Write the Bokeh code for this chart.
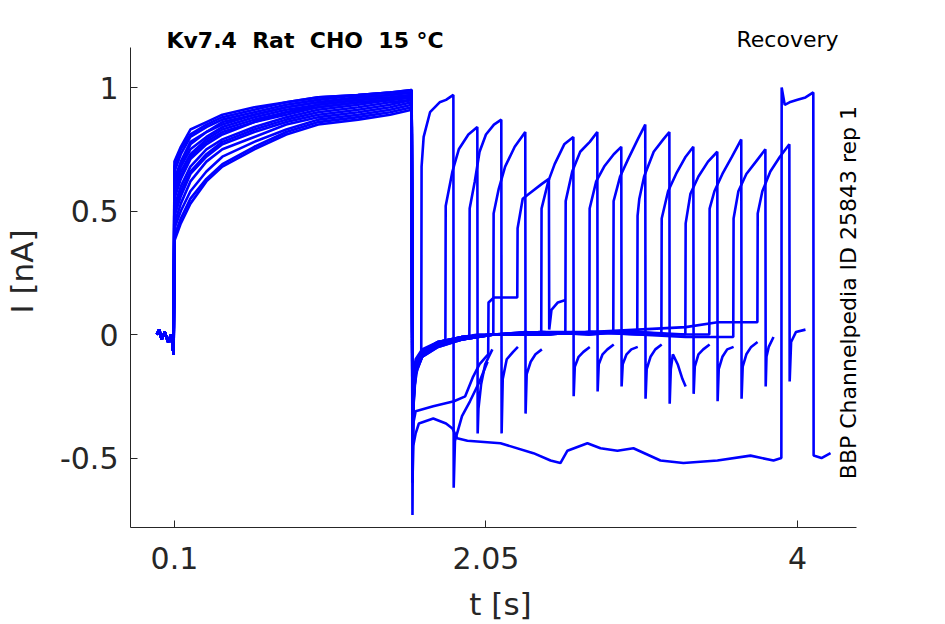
from bokeh.plotting import figure
from bokeh.models import Range1d, FixedTicker, Label
from bokeh.embed import file_html
from bokeh.resources import INLINE
import math

# ---------------- data ----------------
X_TICKS = [0.1, 2.05, 4]
Y_TICKS = [-0.5, 0, 0.5, 1]
Y_TICK_TEXT = {-0.5: "-0.5", 0: "0", 0.5: "0.5", 1: "1"}

# baseline before the first step (common to all sweeps)
T_BASE = [-0.01, 0.005, 0.02, 0.04, 0.06, 0.08, 0.095]
I_BASE = [0.0, 0.02, -0.02, 0.01, -0.03, 0.0, -0.08]

# first (conditioning) pulse
T_FIRST = [0.1, 0.14, 0.2, 0.3, 0.4, 0.6, 0.8, 1.0, 1.25, 1.45, 1.585]
I_FIRST = [
    [0.70, 0.76, 0.83, 0.86, 0.89, 0.92, 0.94, 0.96, 0.97, 0.98, 0.98],
    [0.52, 0.60, 0.68, 0.75, 0.79, 0.84, 0.88, 0.91, 0.93, 0.95, 0.96],
    [0.60, 0.68, 0.75, 0.80, 0.84, 0.88, 0.91, 0.93, 0.95, 0.96, 0.97],
    [0.45, 0.53, 0.62, 0.70, 0.75, 0.80, 0.85, 0.88, 0.90, 0.92, 0.94],
    [0.66, 0.73, 0.80, 0.84, 0.87, 0.90, 0.93, 0.95, 0.97, 0.98, 0.99],
    [0.40, 0.47, 0.55, 0.63, 0.69, 0.76, 0.82, 0.86, 0.88, 0.90, 0.92],
    [0.55, 0.63, 0.71, 0.77, 0.81, 0.86, 0.89, 0.92, 0.94, 0.95, 0.96],
    [0.48, 0.56, 0.65, 0.72, 0.77, 0.82, 0.86, 0.89, 0.91, 0.93, 0.95],
    [0.63, 0.70, 0.78, 0.82, 0.86, 0.89, 0.92, 0.94, 0.96, 0.97, 0.98],
    [0.38, 0.45, 0.53, 0.62, 0.68, 0.75, 0.81, 0.85, 0.87, 0.89, 0.91],
    [0.58, 0.66, 0.73, 0.79, 0.83, 0.87, 0.90, 0.93, 0.95, 0.96, 0.97],
    [0.50, 0.58, 0.66, 0.73, 0.78, 0.83, 0.87, 0.90, 0.92, 0.94, 0.95],
    [0.68, 0.75, 0.81, 0.85, 0.88, 0.91, 0.94, 0.96, 0.97, 0.98, 0.99],
    [0.43, 0.50, 0.58, 0.66, 0.72, 0.78, 0.83, 0.87, 0.89, 0.91, 0.93],
    [0.56, 0.64, 0.72, 0.78, 0.82, 0.86, 0.90, 0.92, 0.94, 0.95, 0.97],
    [0.62, 0.69, 0.77, 0.82, 0.85, 0.89, 0.92, 0.94, 0.96, 0.97, 0.98],
]

# recovery interval + test pulse + tail, one list per sweep
T_POST = [
    [1.59, 1.593, 1.60, 1.62, 1.645, 1.647, 1.66, 1.70, 1.76, 1.80, 1.846, 1.848, 1.856, 1.90, 1.95, 2.01, 2.06],
    [1.59, 1.595, 1.61, 1.65, 1.72, 1.796, 1.798, 1.84, 1.88, 1.94, 1.996, 1.998, 2.003, 2.02, 2.045, 2.09],
    [1.59, 1.595, 1.61, 1.65, 1.75, 1.85, 1.946, 1.948, 1.98, 2.01, 2.05, 2.10, 2.146, 2.148, 2.155, 2.18, 2.22, 2.25],
    [1.59, 1.595, 1.61, 1.65, 1.75, 1.9, 2.0, 2.096, 2.098, 2.13, 2.17, 2.23, 2.296, 2.298, 2.305, 2.33, 2.36, 2.40],
    [1.59, 1.595, 1.61, 1.72, 1.85, 1.92, 1.97, 2.01, 2.05, 2.064, 2.066, 2.10, 2.20, 2.246, 2.248, 2.28, 2.32, 2.40, 2.444, 2.446, 2.46, 2.50, 2.548],
    [1.59, 1.595, 1.61, 1.65, 1.75, 1.9, 2.1, 2.3, 2.396, 2.398, 2.44, 2.48, 2.54, 2.597, 2.599, 2.606, 2.63, 2.66, 2.70],
    [1.59, 1.595, 1.61, 1.65, 1.75, 1.9, 2.1, 2.3, 2.45, 2.547, 2.549, 2.59, 2.64, 2.70, 2.747, 2.749, 2.756, 2.78, 2.81, 2.85],
    [1.59, 1.595, 1.61, 1.65, 1.75, 1.9, 2.1, 2.4, 2.6, 2.697, 2.699, 2.74, 2.79, 2.85, 2.897, 2.899, 2.906, 2.93, 2.96, 3.0],
    [1.59, 1.595, 1.61, 1.65, 1.75, 1.9, 2.1, 2.4, 2.7, 2.847, 2.849, 2.89, 2.94, 3.0, 3.047, 3.049, 3.056, 3.08, 3.11, 3.15],
    [1.59, 1.595, 1.61, 1.65, 1.75, 1.9, 2.1, 2.4, 2.7, 2.9, 2.997, 2.999, 3.01, 3.04, 3.10, 3.16, 3.198, 3.200, 3.207, 3.22, 3.25, 3.28, 3.30],
    [1.59, 1.595, 1.61, 1.65, 1.75, 1.9, 2.1, 2.4, 2.7, 3.0, 3.148, 3.150, 3.19, 3.24, 3.30, 3.348, 3.350, 3.357, 3.38, 3.41, 3.45],
    [1.59, 1.595, 1.61, 1.65, 1.75, 1.9, 2.1, 2.4, 2.7, 3.0, 3.2, 3.298, 3.300, 3.33, 3.38, 3.44, 3.498, 3.500, 3.507, 3.53, 3.56, 3.60],
    [1.59, 1.595, 1.61, 1.65, 1.75, 1.9, 2.1, 2.4, 2.7, 3.0, 3.3, 3.448, 3.450, 3.48, 3.53, 3.59, 3.648, 3.650, 3.657, 3.68, 3.71, 3.75],
    [1.59, 1.595, 1.61, 1.65, 1.75, 1.9, 2.1, 2.4, 2.7, 3.0, 3.3, 3.598, 3.600, 3.63, 3.68, 3.74, 3.799, 3.801, 3.806, 3.82, 3.85],
    [1.59, 1.595, 1.61, 1.65, 1.75, 1.9, 2.1, 2.4, 2.7, 3.0, 3.3, 3.5, 3.749, 3.751, 3.78, 3.83, 3.89, 3.949, 3.951, 3.96, 3.99, 4.05],
    [1.59, 1.595, 1.61, 1.63, 1.72, 1.80, 1.84, 1.87, 1.934, 2.141, 2.347, 2.454, 2.516, 2.560, 2.685, 2.767, 2.873, 2.973,
     3.142, 3.286, 3.499, 3.706, 3.85, 3.899, 3.901, 3.92, 3.95, 4.0, 4.05, 4.099, 4.101, 4.15, 4.207],
]
I_POST = [
    [-0.73, -0.40, -0.22, -0.14, -0.10, 0.68, 0.80, 0.90, 0.94, 0.95, 0.97, -0.62, -0.43, -0.33, -0.27, -0.19, -0.11],
    [-0.55, -0.30, -0.16, -0.09, -0.05, -0.03, 0.52, 0.66, 0.75, 0.81, 0.84, -0.40, -0.30, -0.20, -0.12, -0.06],
    [-0.48, -0.28, -0.15, -0.08, -0.04, -0.02, -0.01, 0.51, 0.62, 0.74, 0.81, 0.85, 0.87, -0.40, -0.18, -0.10, -0.07, -0.05],
    [-0.42, -0.25, -0.14, -0.09, -0.04, -0.01, 0.0, 0.0, 0.49, 0.59, 0.68, 0.76, 0.82, -0.32, -0.16, -0.11, -0.08, -0.06],
    [-0.50, -0.36, -0.31, -0.29, -0.27, -0.25, -0.17, -0.12, -0.09, -0.08, 0.13, 0.15, 0.15, 0.15, 0.43, 0.55, 0.57, 0.61, 0.63, 0.02, 0.10, 0.13, 0.14],
    [-0.38, -0.24, -0.13, -0.08, -0.04, -0.02, 0.0, 0.01, 0.0, 0.51, 0.62, 0.69, 0.77, 0.80, -0.25, -0.13, -0.09, -0.07, -0.05],
    [-0.34, -0.22, -0.12, -0.07, -0.03, -0.01, 0.0, 0.01, 0.0, 0.01, 0.54, 0.66, 0.74, 0.78, 0.82, -0.23, -0.12, -0.08, -0.06, -0.04],
    [-0.30, -0.20, -0.11, -0.07, -0.04, -0.02, 0.0, 0.0, 0.01, 0.0, 0.51, 0.62, 0.68, 0.73, 0.76, -0.21, -0.12, -0.08, -0.06, -0.05],
    [-0.45, -0.27, -0.14, -0.09, -0.05, -0.02, 0.0, 0.01, 0.0, 0.01, 0.54, 0.64, 0.71, 0.79, 0.85, -0.26, -0.14, -0.09, -0.06, -0.04],
    [-0.36, -0.23, -0.12, -0.08, -0.04, -0.01, 0.0, 0.01, 0.0, 0.01, 0.01, 0.48, 0.55, 0.64, 0.74, 0.79, 0.82, -0.28, -0.14, -0.08, -0.12, -0.18, -0.21],
    [-0.32, -0.21, -0.11, -0.07, -0.03, -0.01, 0.0, 0.0, 0.01, 0.0, 0.0, 0.47, 0.58, 0.65, 0.72, 0.76, -0.24, -0.13, -0.08, -0.06, -0.04],
    [-0.40, -0.25, -0.13, -0.08, -0.04, -0.02, 0.0, 0.0, 0.01, 0.01, 0.0, 0.0, 0.45, 0.57, 0.64, 0.70, 0.74, -0.27, -0.14, -0.09, -0.06, -0.05],
    [-0.28, -0.19, -0.10, -0.06, -0.03, -0.01, 0.0, 0.0, 0.01, 0.01, 0.0, 0.0, 0.51, 0.58, 0.65, 0.72, 0.79, -0.26, -0.13, -0.08, -0.05, -0.03],
    [-0.50, -0.29, -0.15, -0.09, -0.05, -0.02, 0.0, 0.0, 0.01, 0.0, -0.01, -0.01, 0.47, 0.58, 0.65, 0.70, 0.75, -0.21, -0.09, -0.05, -0.01],
    [-0.33, -0.21, -0.12, -0.07, -0.03, -0.01, 0.0, 0.01, 0.01, 0.02, 0.03, 0.05, 0.05, 0.49, 0.58, 0.66, 0.72, 0.77, -0.19, -0.03, 0.01, 0.02],
    [-0.60, -0.45, -0.40, -0.36, -0.34, -0.36, -0.38, -0.42, -0.43, -0.44, -0.48, -0.51, -0.52, -0.47, -0.44, -0.46, -0.47, -0.46,
     -0.51, -0.52, -0.51, -0.49, -0.51, -0.50, 1.00, 0.93, 0.94, 0.95, 0.96, 0.98, -0.49, -0.50, -0.48],
]

NBSP = "\u00a0"
TITLE = "Kv7.4 " + NBSP + "Rat " + NBSP + "CHO " + NBSP + "15 °C"
PROTOCOL = "Recovery"
SOURCE = "BBP Channelpedia ID 25843 rep 1"
X_LABEL = "t [s]"
Y_LABEL = "I [nA]"

# axis extents (data units) of the drawn axes
X_AXIS_SPAN = (-0.175, 4.369)
Y_AXIS_SPAN = (-0.781, 1.162)

# ---------------- figure ----------------
FONT = "DejaVu Sans"
DARK = "#262626"
TRACE = "#0000FF"

p = figure(width=929, height=624, output_backend="svg", toolbar_location=None,
           x_range=Range1d(-0.175, 4.457), y_range=Range1d(-0.781, 1.2915),
           min_border_left=130, min_border_right=59, min_border_top=15,
           min_border_bottom=97)
p.outline_line_color = None
p.grid.visible = False
p.background_fill_color = "white"
p.border_fill_color = "white"

for ax, ticks in ((p.xaxis, X_TICKS), (p.yaxis, Y_TICKS)):
    ax.ticker = FixedTicker(ticks=ticks)
    ax.axis_line_color = DARK
    ax.major_tick_line_color = DARK
    ax.major_tick_in = 7
    ax.major_tick_out = 0
    ax.minor_tick_line_color = None
    ax.major_label_text_font = FONT
    ax.major_label_text_font_size = "30px"
    ax.major_label_text_color = DARK
    ax.axis_label_text_font = FONT
    ax.axis_label_text_font_size = "31px"
    ax.axis_label_text_font_style = "normal"
    ax.axis_label_text_color = DARK

p.xaxis.bounds = X_AXIS_SPAN
p.yaxis.bounds = Y_AXIS_SPAN
p.yaxis.major_label_overrides = Y_TICK_TEXT
p.xaxis.major_label_standoff = 19
p.yaxis.major_label_standoff = 12
p.xaxis.axis_label = X_LABEL
p.yaxis.axis_label = Y_LABEL
p.xaxis.axis_label_standoff = 14
p.yaxis.axis_label_standoff = 17

for i in range(len(I_FIRST)):
    xs = T_BASE + T_FIRST + T_POST[i]
    ys = I_BASE + I_FIRST[i] + I_POST[i]
    p.line(xs, ys, line_color=TRACE, line_width=2.6)

p.add_layout(Label(x=0.05, y=1.190, text=TITLE, text_font=FONT, text_font_size="22px",
                   text_font_style="bold", text_color="black", text_align="left",
                   text_baseline="alphabetic"))
p.add_layout(Label(x=4.257, y=1.194, text=PROTOCOL, text_font=FONT, text_font_size="22px",
                   text_color="black", text_align="right", text_baseline="alphabetic"))
p.add_layout(Label(x=4.319, y=0.17, text=SOURCE, text_font=FONT, text_font_size="22px",
                   text_color="black", text_align="center", text_baseline="alphabetic",
                   angle=math.pi / 2))

open("out.html", "w").write(file_html(p, INLINE))
